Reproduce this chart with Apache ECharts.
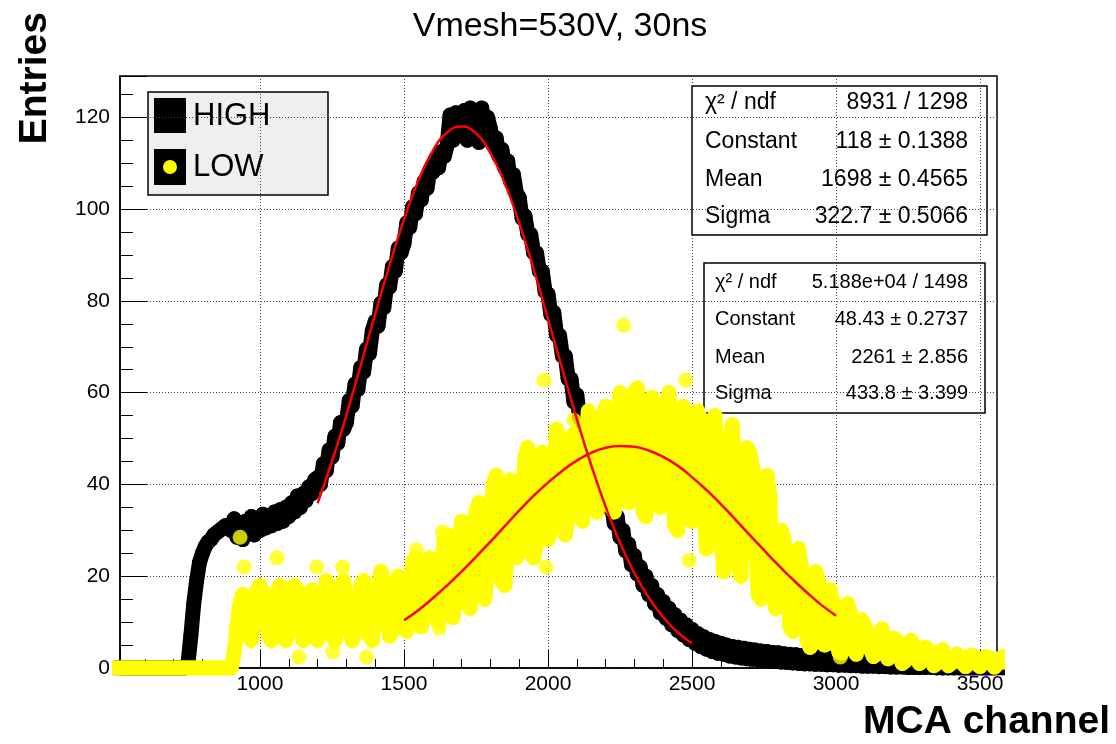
<!DOCTYPE html>
<html>
<head>
<meta charset="utf-8">
<title>Vmesh=530V, 30ns</title>
<script src="https://cdn.jsdelivr.net/npm/echarts@6/dist/echarts.min.js"></script>
<style>
  html, body { margin: 0; background: #fff; }
  #main { width: 1116px; height: 744px; }
</style>
</head>
<body>
<div id="main"></div>
<script>
// MCA bins: first channel and bin width of the count arrays below
const chStart = 500
const chStep = 10

// HIGH counts, one row = 100 channels
const highCounts = [
  0, 0, 0, 0, 0, 0, 0, 0, 0, 0,
  0, 0, 0, 0, 0, 0, 0, 0, 0, 0,
  0, 0, 0, 0, 0, 1, 7, 14, 19, 23,
  25, 26.5, 27.5, 28, 29, 29.5, 30, 30.5, 31, 30.5,
  30, 32.5, 28.5, 31.5, 28, 32, 30, 33, 29, 31.5,
  30, 33.5, 30.5, 33, 31, 34, 31.5, 34.5, 32, 35,
  33, 36, 34, 37.5, 35, 38, 36.5, 39.5, 38, 41,
  41.5, 40, 44.5, 43, 47.5, 46, 50.5, 49, 53.5, 52,
  53.5, 58.3, 57.1, 61.9, 60.7, 65.5, 64.5, 69.5, 68.5, 73.5,
  75.5, 74.5, 79.5, 78.5, 83.5, 83, 87.5, 86.5, 91.5, 90.5,
  92.5, 97, 96, 100.5, 99, 103.5, 102, 106, 104.5, 108.5,
  108, 111, 109, 112.5, 111.5, 114, 120.5, 115, 121, 116,
  118, 121.5, 115, 122, 117, 121, 114.5, 122, 117.5, 120,
  117.5, 114, 115.5, 111.5, 113, 109, 110.5, 106, 107.5, 103.5,
  102.5, 98, 98.5, 94.5, 94.5, 90.5, 90.5, 86.5, 86.5, 82,
  81.5, 77, 77.5, 72.5, 72.5, 68, 68, 63, 63, 58,
  59.5, 54.5, 54.5, 50, 50.5, 46, 46.5, 42, 42.5, 38,
  39.5, 35, 36, 31.5, 33, 28.5, 30, 25.5, 27, 22.5,
  24.5, 20.5, 22, 18, 20, 16, 18, 14, 16, 12,
  14.5, 10.8, 13, 9.4, 11.6, 8.2, 10.4, 7.2, 9.4, 6.2,
  8.4, 5.4, 7.5, 4.7, 6.8, 4.1, 6.2, 3.6, 5.8, 3.2,
  5.4, 3, 5, 2.6, 4.7, 2.4, 4.5, 2.2, 4.3, 2,
  4.1, 1.9, 3.9, 1.8, 3.7, 1.7, 3.6, 1.5, 3.4, 1.4,
  3.3, 1.3, 3.1, 1.2, 3, 1.1, 2.9, 1, 2.7, 0.9,
  2.6, 0.9, 2.5, 0.8, 2.4, 0.8, 2.3, 0.7, 2.1, 0.7,
  2, 0.6, 1.9, 0.6, 1.8, 0.5, 1.7, 0.5, 1.6, 0.4,
  1.5, 0.4, 1.4, 0.4, 1.3, 0.3, 1.2, 0.3, 1.1, 0.2,
  1, 0.2, 0.9, 0.2, 0.8, 0.1, 0.7, 0.1, 0.6, 0.1,
  0.5, 0.1, 0.4, 0.1, 0.3, 0, 0.3, 0, 0.2, 0,
  0.1, 0, 0.1, 0, 0, 0, 0, 0, 0, 0,
  0, 0, 0, 0, 0, 0, 0, 0, 0, 0
]

// LOW counts (main band), same binning
const lowCounts = [
  0, 0, 0, 0, 0, 0, 0, 0, 0, 0,
  0, 0, 0, 0, 0, 0, 0, 0, 0, 0,
  0, 0, 0, 0, 0, 0, 0, 0, 0, 0,
  0, 0, 0, 0, 0, 0, 0, 0, 0, 0,
  0, 3, 9, 14, 16, 12, 7, 6, 12, 17,
  18, 16, 11, 7, 6, 12, 17, 18, 10, 6,
  8, 13, 18, 17, 12, 6, 7, 14, 17, 10,
  6, 7, 13, 19, 18, 11, 6, 9, 16, 19,
  15, 9, 6, 8, 14, 18, 19, 12, 7, 6,
  11, 17, 21, 19, 12, 7, 8, 15, 20, 14,
  9, 8, 16, 23, 24, 15, 9, 12, 21, 24,
  17, 11, 10, 20, 28, 29, 18, 11, 16, 27,
  32, 24, 14, 13, 22, 34, 36, 26, 15, 20,
  33, 40, 42, 29, 19, 18, 28, 41, 38, 24,
  25, 34, 46, 48, 36, 24, 27, 42, 47, 31,
  28, 30, 44, 52, 50, 37, 29, 33, 49, 51,
  40, 33, 32, 46, 56, 55, 43, 34, 39, 54,
  57, 44, 35, 34, 49, 60, 58, 42, 36, 51,
  60, 61, 47, 34, 33, 45, 59, 56, 40, 35,
  44, 58, 60, 46, 31, 30, 42, 57, 53, 36,
  32, 49, 56, 54, 38, 26, 27, 44, 55, 41,
  29, 21, 33, 50, 53, 39, 22, 20, 41, 48,
  47, 44, 30, 16, 15, 28, 42, 38, 19, 13,
  17, 30, 28, 18, 9, 8, 20, 26, 22, 11,
  6, 4.5, 14, 21, 19, 9, 5, 11, 17, 14,
  8, 3.5, 3.3, 10, 14, 12, 6, 3, 8, 10.5,
  9, 8, 4, 2.5, 3, 7, 8.5, 5, 2, 3.5,
  6.5, 6, 3, 1, 1.5, 4.5, 6, 5, 2, 1,
  2.5, 4.5, 4, 1.5, 0.5, 1, 3.5, 4, 2, 0.5,
  1, 2.5, 3, 2.5, 1, 0.3, 1.5, 2.8, 2.5, 0.8,
  0.3, 1.5, 2.5, 2.3, 1, 0.2, 0.8, 2.2, 2.5, 1.2
]

// LOW points lying away from the band: [channel, counts]
const lowOutliers = [
  [931, 28.5], [945, 22], [1059, 24], [1135, 2.4], [1197, 22], [1253, 3.5], [1287, 22],
  [1370, 2.4], [1543, 25.7], [1623, 8.7], [1633, 29.6], [1986, 62.7], [1993, 22], [2090, 54],
  [2263, 74.7], [2478, 62.7], [2490, 23.5], [3015, 2.4]
]

// red fit curves
const fitHighCh = [1200, 1250, 1300, 1350, 1400, 1450, 1500, 1550, 1600, 1650, 1700, 1750, 1800, 1850,
  1900, 1950, 2000, 2050, 2100, 2150, 2200, 2250, 2300, 2350, 2400, 2450, 2500]
const fitHighVal = [35.9, 45.0, 55.1, 66.0, 77.1, 87.8, 97.7, 106.2, 112.7, 116.7, 118.0, 116.5, 112.2, 105.6,
  97.0, 87.0, 76.1, 65.1, 54.3, 44.2, 35.2, 27.3, 20.7, 15.3, 11.1, 7.8, 5.4]
const fitLowCh = [1500, 1550, 1600, 1650, 1700, 1750, 1800, 1850, 1900, 1950, 2000, 2050, 2100, 2150, 2200, 2250,
  2300, 2350, 2400, 2450, 2500, 2550, 2600, 2650, 2700, 2750, 2800, 2850, 2900, 2950, 3000]
const fitLowVal = [10.4, 12.6, 15.2, 18.0, 21.0, 24.2, 27.5, 30.9, 34.3, 37.5, 40.4, 43.0, 45.2, 46.9, 48.0, 48.4,
  48.2, 47.4, 46.0, 44.1, 41.6, 38.8, 35.7, 32.4, 29.0, 25.7, 22.4, 19.3, 16.4, 13.7, 11.4]

// fit result boxes
const statsHigh = [['χ² / ndf', '8931 / 1298'], ['Constant', '118 ± 0.1388'], ['Mean', '1698 ± 0.4565'], ['Sigma', '322.7 ± 0.5066']]
const statsLow = [['χ² / ndf', '5.188e+04 / 1498'], ['Constant', '48.43 ± 0.2737'], ['Mean', '2261 ± 2.856'], ['Sigma', '433.8 ± 3.399']]

const FONT = '"Liberation Sans", Arial, Helvetica, sans-serif'

const binned = counts => counts.map((v, i) => [chStart + i * chStep, v])
const zip = (xs, ys) => xs.map((x, i) => [x, ys[i]])

function statsBox(x, y, w, h, rows, rowY, fontSize, leftX, rightX) {
  const els = [{
    type: 'rect', shape: { x: x, y: y, width: w, height: h },
    style: { fill: '#fff', stroke: '#000', lineWidth: 1.5 }
  }]
  rows.forEach((r, i) => {
    els.push({ type: 'text', x: leftX, y: rowY[i],
      style: { text: r[0], font: fontSize + 'px ' + FONT, fill: '#000', textAlign: 'left', textVerticalAlign: 'middle' } })
    els.push({ type: 'text', x: rightX, y: rowY[i],
      style: { text: r[1], font: fontSize + 'px ' + FONT, fill: '#000', textAlign: 'right', textVerticalAlign: 'middle' } })
  })
  return els
}

const chart = echarts.init(document.getElementById('main'), null, { renderer: 'canvas' })

const dotted = { show: true, lineStyle: { color: '#444', type: [1, 2], width: 1 } }

const option = {
  animation: false,
  backgroundColor: '#fff',
  grid: { left: 120, right: 119, top: 76, bottom: 76, show: true, borderColor: '#000', borderWidth: 1.5, backgroundColor: 'transparent' },
  xAxis: {
    type: 'value', min: 514, max: 3559, minInterval: 500, maxInterval: 500,
    axisLine: { lineStyle: { color: '#000', width: 1.5 } },
    axisTick: { inside: true, length: 18, lineStyle: { color: '#000' } },
    minorTick: { show: true, splitNumber: 5, length: 9, lineStyle: { color: '#000' } },
    axisLabel: { showMinLabel: false, showMaxLabel: false, margin: 6, fontSize: 21, color: '#000', fontFamily: FONT,
      formatter: v => String(v) },
    splitLine: dotted
  },
  yAxis: {
    type: 'value', min: 0, max: 129, interval: 20,
    axisLine: { show: true, lineStyle: { color: '#000', width: 1.5 } },
    axisTick: { show: true, inside: true, length: 27, lineStyle: { color: '#000' } },
    minorTick: { show: true, splitNumber: 4, length: 13, lineStyle: { color: '#000' } },
    axisLabel: { showMaxLabel: false, margin: 10, fontSize: 21, color: '#000', fontFamily: FONT,
      formatter: v => String(v) },
    splitLine: dotted
  },
  series: [
    { // fills the dense HIGH band between markers
      type: 'line', data: binned(highCounts), symbol: 'none', silent: true, z: 1,
      lineStyle: { color: '#000', width: 15, cap: 'round', join: 'round' }
    },
    { type: 'scatter', data: binned(highCounts), symbolSize: 15, itemStyle: { color: '#000' }, z: 2 },
    { // fills the dense LOW band between markers
      type: 'line', data: binned(lowCounts), symbol: 'none', silent: true, z: 3,
      lineStyle: { color: '#ffff00', width: 15, cap: 'round', join: 'round' }
    },
    { type: 'scatter', data: binned(lowCounts), symbolSize: 15, itemStyle: { color: '#ffff00' }, z: 3 },
    { type: 'scatter', data: lowOutliers, symbolSize: 15, itemStyle: { color: '#ffff00' }, z: 3 },
    { type: 'line', data: zip(fitHighCh, fitHighVal), smooth: true, symbol: 'none', z: 4,
      lineStyle: { color: '#ff0000', width: 2.5 } },
    { type: 'line', data: zip(fitLowCh, fitLowVal), smooth: true, symbol: 'none', z: 4,
      lineStyle: { color: '#ff0000', width: 2.5 } }
  ],
  graphic: [
    { type: 'text', x: 560, y: 27, style: { text: 'Vmesh=530V, 30ns', font: '34px ' + FONT, fill: '#000', textAlign: 'center', textVerticalAlign: 'middle' } },
    { type: 'text', x: 35, y: 12, rotation: Math.PI / 2, style: { text: 'Entries', font: 'bold 39px ' + FONT, fill: '#000', textAlign: 'right', textVerticalAlign: 'middle' } },
    { type: 'text', x: 1110, y: 722, style: { text: 'MCA channel', font: 'bold 39px ' + FONT, fill: '#000', textAlign: 'right', textVerticalAlign: 'middle' } },
    // legend
    { type: 'rect', shape: { x: 148, y: 92, width: 180, height: 103 }, style: { fill: '#efefef', stroke: '#000', lineWidth: 1.5 } },
    { type: 'rect', shape: { x: 154, y: 98, width: 32, height: 35 }, style: { fill: '#000' } },
    { type: 'rect', shape: { x: 154, y: 149, width: 32, height: 36 }, style: { fill: '#000' } },
    { type: 'circle', shape: { cx: 170, cy: 167, r: 7 }, style: { fill: '#ffff00' } },
    { type: 'text', x: 193, y: 116, style: { text: 'HIGH', font: '31px ' + FONT, fill: '#000', textVerticalAlign: 'middle' } },
    { type: 'text', x: 193, y: 167, style: { text: 'LOW', font: '31px ' + FONT, fill: '#000', textVerticalAlign: 'middle' } },
    ...statsBox(692, 86, 295, 149, statsHigh, [103, 142, 180, 217], 23, 705, 968),
    ...statsBox(704, 263, 281, 150, statsLow, [282, 319, 357, 393], 20, 715, 968)
  ]
}

chart.setOption(option)
window.addEventListener('resize', function () {
  chart.resize()
})
</script>
</body>
</html>
